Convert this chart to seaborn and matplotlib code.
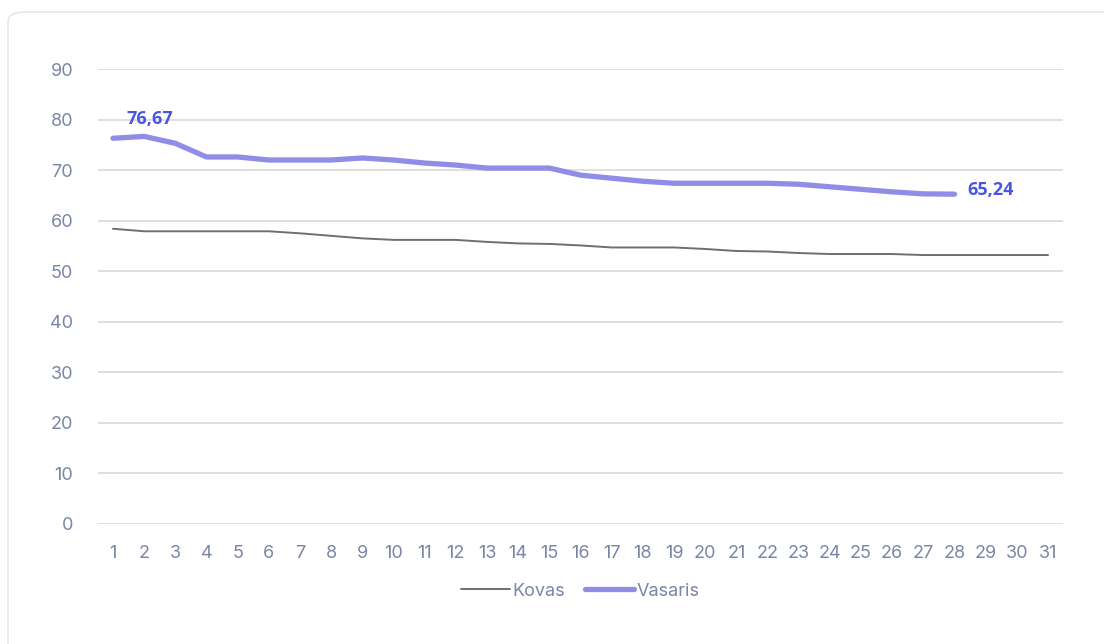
import numpy as np
import pandas as pd
import seaborn as sns
import matplotlib.pyplot as plt
from matplotlib.patches import FancyBboxPatch

# dienos ir reikšmės
dienos_kovas = list(range(1, 32))
kovas = [58.4, 57.9, 57.9, 57.9, 57.9, 57.9, 57.5, 57.0, 56.5, 56.2,
         56.2, 56.2, 55.8, 55.5, 55.4, 55.1, 54.7, 54.7, 54.7, 54.4,
         54.0, 53.9, 53.6, 53.4, 53.4, 53.4, 53.2, 53.2, 53.2, 53.2, 53.2]
dienos_vasaris = list(range(1, 29))
vasaris = [76.3, 76.67, 75.3, 72.6, 72.6, 72.0, 72.0, 72.0, 72.4, 72.0,
           71.4, 71.0, 70.4, 70.4, 70.4, 69.0, 68.4, 67.8, 67.4, 67.4,
           67.4, 67.4, 67.2, 66.7, 66.2, 65.7, 65.3, 65.24]

df_k = pd.DataFrame({'diena': dienos_kovas, 'reiksme': kovas})
df_v = pd.DataFrame({'diena': dienos_vasaris, 'reiksme': vasaris})

sns.set_style('white')
plt.rcParams['font.family'] = ['Inter', 'DejaVu Sans']

tick_col = '#7b86a6'
fig = plt.figure(figsize=(11.04, 6.44), dpi=100)
ax = fig.add_axes([98 / 1104, 1 - 524 / 644, (1063 - 98) / 1104, (524 - 69) / 644])

# kortelės rėmelis
fig.patches.append(FancyBboxPatch((8 / 1104, -0.05), 1.2, 1 - 12 / 644 + 0.05, transform=fig.transFigure,
                                  boxstyle='round,pad=0,rounding_size=0.015',
                                  facecolor='none', edgecolor='#e3e3e6', lw=1))

sns.lineplot(data=df_k, x='diena', y='reiksme', ax=ax, color='#6f6f6f', lw=1.4, label='Kovas')
sns.lineplot(data=df_v, x='diena', y='reiksme', ax=ax, color='#8f8de8', lw=3.8,
             label='Vasaris', solid_capstyle='round')

ax.set_xlim(0.52, 31.48)
ax.set_ylim(0, 90)
ax.set_xticks(dienos_kovas)
ax.set_yticks(range(0, 91, 10))
ax.grid(axis='y', color='#dcdcdc', lw=1.3)
ax.set_axisbelow(True)
for s in ax.spines.values():
    s.set_visible(False)
ax.tick_params(axis='both', colors=tick_col, labelsize=13, length=0)
ax.tick_params(axis='y', pad=18)
ax.tick_params(axis='x', pad=15)
ax.set_xlabel('')
ax.set_ylabel('')

lbl = dict(color='#4a55e2', fontsize=13, fontweight='bold', family='Open Sans')
ax.text(2.2, vasaris[1] + 1.6, '76,67', ha='center', va='bottom', **lbl)
ax.text(28.4, vasaris[-1] - 1.0, '65,24', ha='left', va='bottom', **lbl)

leg = ax.legend(loc='center', bbox_to_anchor=(0.5, (524 - 591) / (524 - 69)), ncol=2,
                frameon=False, fontsize=13, handlelength=2.7, handletextpad=0.15,
                columnspacing=1.1)
for t in leg.get_texts():
    t.set_color(tick_col)

fig.savefig('out.png', dpi=100)
